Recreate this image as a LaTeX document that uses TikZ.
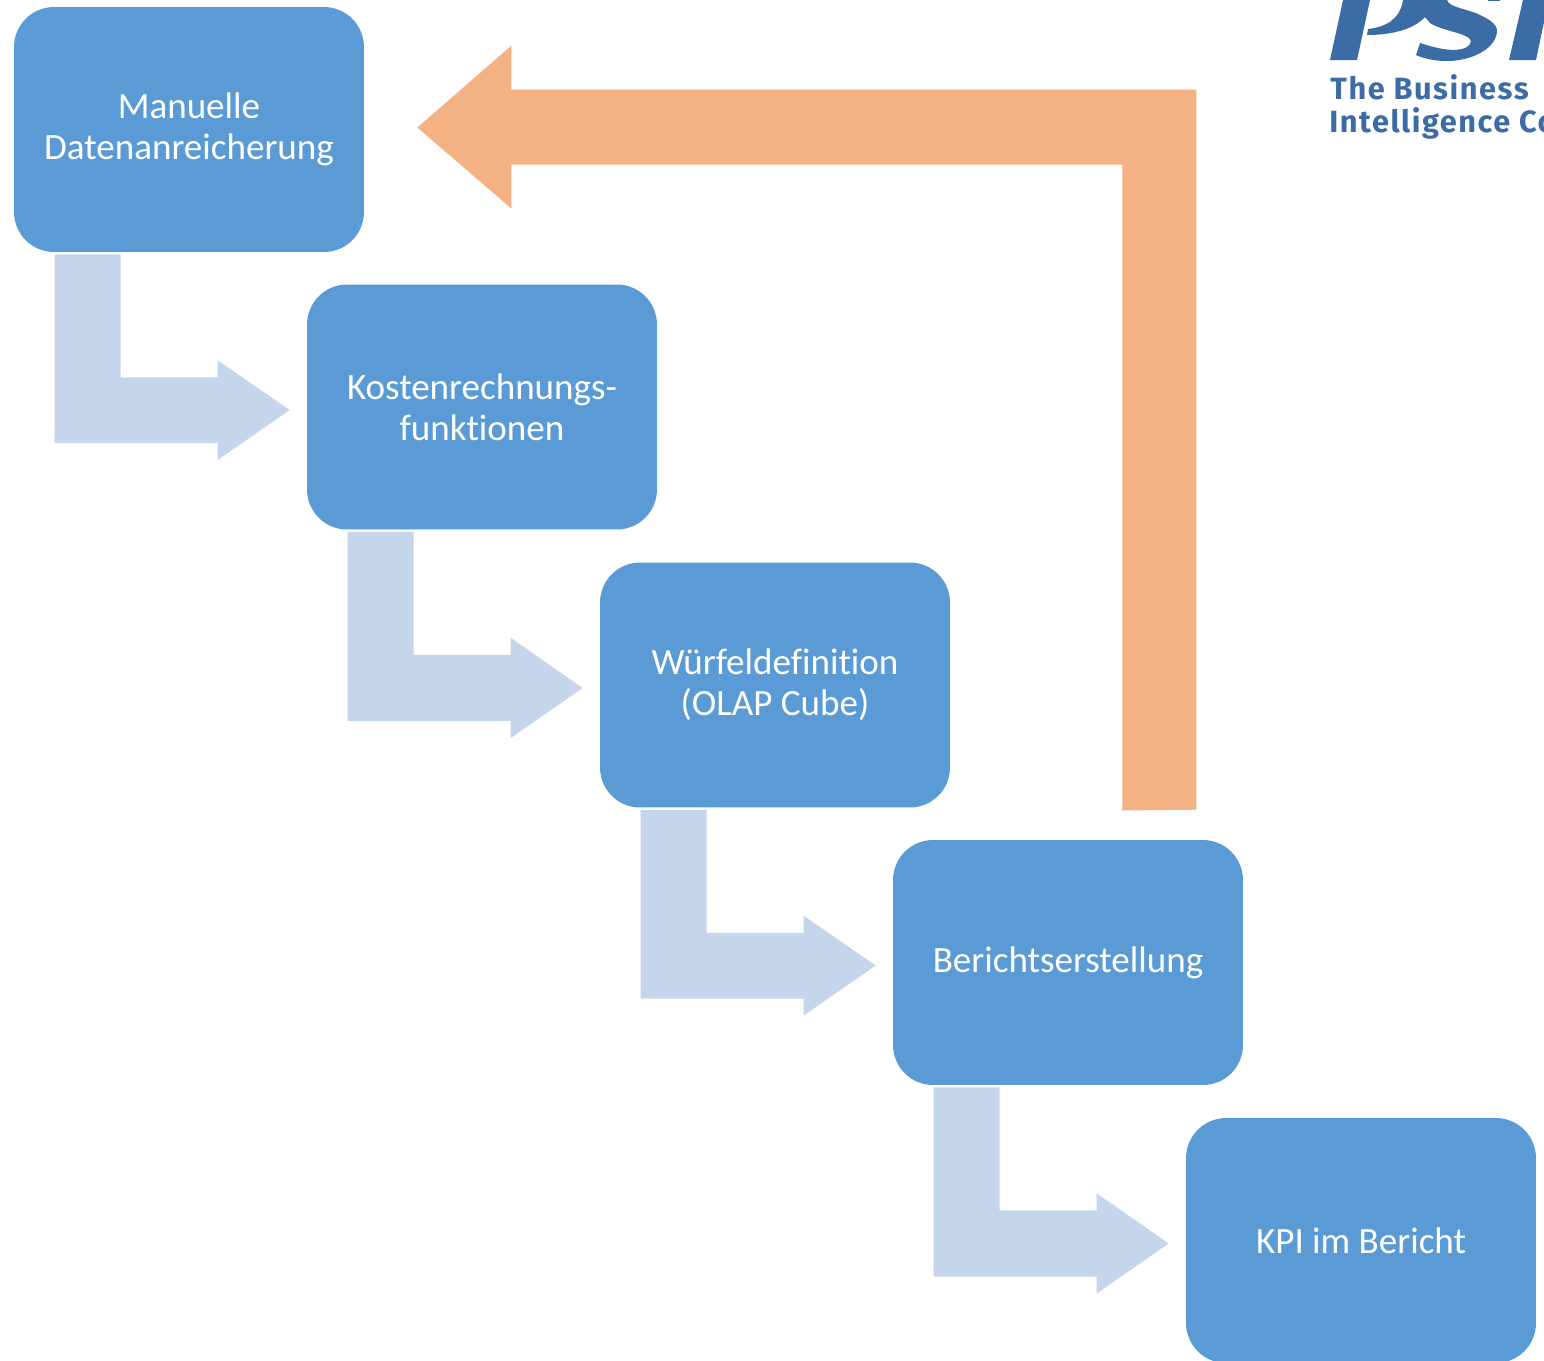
\documentclass[tikz,border=0pt]{standalone}
\usepackage{fontspec}
\setmainfont[Ligatures=NoCommon]{Carlito}
\newfontfamily\logofont[LetterSpace=5]{Fira Sans}
\usetikzlibrary{calc}
\definecolor{boxblue}{HTML}{5B9BD5}
\definecolor{palearrow}{HTML}{C5D5EB}
\definecolor{backarrow}{HTML}{F4B183}
\definecolor{logoblue}{HTML}{3B6CA6}
\tikzset{
  stepbox/.style={fill=boxblue,rounded corners=0.8cm,minimum width=7cm,minimum height=4.9cm,
    text=white,align=center,font=\fontsize{21.1}{23.3}\selectfont},
  logotext/.style={text=logoblue,anchor=base west,inner sep=0pt,font=\logofont\bfseries\fontsize{17.5}{19}\selectfont}
}
\begin{document}
\begin{tikzpicture}[x=0.02cm,y=-0.02cm]
\useasboundingbox (0,0) rectangle (1544,1360);
% blocs
\node[stepbox] (manuell) at (189,129.5) {Manuelle\\Datenanreicherung};
\node[stepbox] (kosten) at (482,407) {Kostenrechnungs-\\funktionen};
\node[stepbox] (wuerfel) at (775,685) {Würfeldefinition\\(OLAP Cube)};
\node[stepbox] (bericht) at (1068,962.5) {Berichtserstellung};
\node[stepbox] (kpi) at (1361,1240.5) {KPI im Bericht};
% fleches
\foreach \a/\b in {manuell/kosten,kosten/wuerfel,wuerfel/bericht,bericht/kpi}
    {
    \fill[palearrow] ($(\a.south west)+(41,2)$) -- ++(66,0) -- ++(0,123) -- ++(97,0) -- ++(0,-17)
        -- ($(\b.west)+(-17,3)$) -- ++(-72,50) -- ++(0,-17) -- ++(-163,0) -- cycle;
    }
% retour
\coordinate (retour) at ($(bericht.north east)+(-47,-30)$);
\fill[backarrow] (retour) -- ++(0,-720) -- ++(-685,0) -- ++(0,-44)
    -- ($(manuell.east)+(53,-2)$) -- ++(94,81) -- ++(0,-44) -- ++(611,0) -- ++(0,646) -- cycle;
% logo
\fill[logoblue] (1330,60) -- (1343,0) -- (1370,0) -- (1357,60) -- cycle;
\fill[logoblue] (1367,35) -- (1368,29) .. controls (1385,27) and (1400,20) .. (1403,0) -- (1447,0)
    .. controls (1449,8) and (1470,9) .. (1482,16) .. controls (1493,21) and (1498,27) .. (1497,32)
    .. controls (1495,50) and (1470,61) .. (1447,61) .. controls (1435,61) and (1425,59) .. (1416,55)
    -- (1420,43) .. controls (1432,47) and (1450,52) .. (1462,49) .. controls (1470,47) and (1472,42) .. (1470,39)
    .. controls (1465,33) and (1440,30) .. (1430,23) -- (1425,17) .. controls (1415,28) and (1395,35) .. (1367,35) -- cycle;
\fill[logoblue] (1509,60) -- (1523,0) -- (1544,0) -- (1544,22) -- (1536,60) -- cycle;
\fill[logoblue] (1488,0) rectangle (1500,1.2);
\node[logotext] (slogan1) at (1330,99) {The Business};
\node[logotext] (slogan2) at (1329,132) {Intelligence Co};
\end{tikzpicture}
\end{document}
